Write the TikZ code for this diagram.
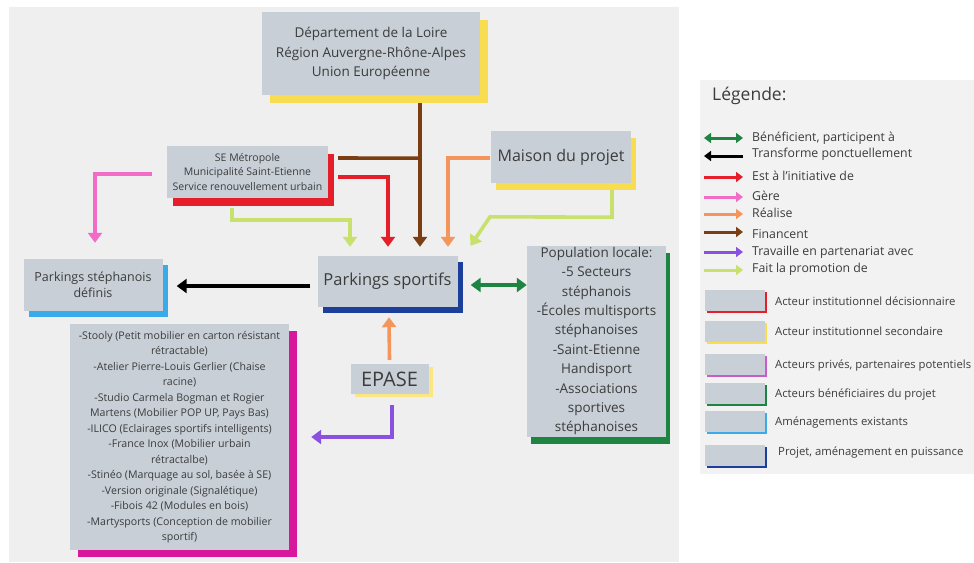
\documentclass[tikz,border=0pt]{standalone}
\usepackage{fontspec}
\setmainfont{Open Sans}
\usetikzlibrary{arrows.meta,calc,shadows}
\definecolor{bgmain}{HTML}{EFEFEF}
\definecolor{bgleg}{HTML}{F2F2F2}
\definecolor{boxgrey}{HTML}{C8CFD7}
\definecolor{txt}{HTML}{3C3C3C}
\definecolor{cbrown}{HTML}{7A3E12}
\definecolor{cred}{HTML}{E61E2A}
\definecolor{cprom}{HTML}{C8E06C}
\definecolor{corange}{HTML}{F4955C}
\definecolor{cpink}{HTML}{F06CC6}
\definecolor{cgreen}{HTML}{1E8442}
\definecolor{cpurple}{HTML}{8A50E0}
\definecolor{cyellow}{HTML}{F8DD50}
\definecolor{cnavy}{HTML}{1B3F9A}
\definecolor{clblue}{HTML}{3BAAE8}
\definecolor{cmagenta}{HTML}{D8189C}
\definecolor{clegpink}{HTML}{C85CC8}
\newcommand\fsz[2]{\fontsize{#1}{#2}\selectfont}
\tikzset{
  box/.style={fill=boxgrey, text=txt, align=center, inner sep=0pt},
  conn/.style={line width=3.6pt, -{Triangle[width=14pt,length=10pt]}},
  lconn/.style={line width=3pt, -{Triangle[width=10pt,length=7pt]}},
  legtxt/.style={text=txt, anchor=west, inner sep=0pt, font=\fsz{12.3}{14}},
  legtxt2/.style={text=txt, anchor=west, inner sep=0pt, font=\fsz{11.3}{13}},
  legbox/.style={fill=boxgrey, minimum width=60pt, minimum height=21pt, inner sep=0pt, anchor=north west},
}
\begin{document}
\begin{tikzpicture}[x=1pt,y=-1pt]
\useasboundingbox (0,0) rectangle (974,562);
\fill[white] (0,0) rectangle (974,562);
\fill[bgmain] (9,7) rectangle (679,562);
\fill[bgleg] (700,80) rectangle (974,474);

% main nodes
\node[box, general shadow={fill=cyellow, shadow xshift=8pt, shadow yshift=-8pt}, minimum width=218pt, minimum height=83pt, font=\fsz{13.5}{19.5}] (dep) at (371,53.5)
  {Département de la Loire\\Région Auvergne-Rhône-Alpes\\Union Européenne};
\node[box, general shadow={fill=cred, shadow xshift=6pt, shadow yshift=-8pt}, minimum width=161pt, minimum height=52pt, font=\fsz{10.5}{14.5}] (se) at (247.5,172)
  {SE Métropole\\Municipalité Saint-Etienne\\Service renouvellement urbain};
\node[box, general shadow={fill=cyellow, shadow xshift=5pt, shadow yshift=-7pt}, minimum width=140pt, minimum height=52pt, font=\fsz{16}{19}] (maison) at (561,157)
  {Maison du projet};
\node[box, general shadow={fill=cnavy, shadow xshift=5pt, shadow yshift=-6pt}, minimum width=140pt, minimum height=51pt, font=\fsz{16.5}{20}] (ps) at (387.5,281.5)
  {Parkings sportifs};
\node[box, general shadow={fill=cyellow!70!white, shadow xshift=4pt, shadow yshift=-3pt}, minimum width=78pt, minimum height=30pt, font=\fsz{20}{22}] (epase) at (389.5,379)
  {EPASE};
\node[box, general shadow={fill=clblue, shadow xshift=5pt, shadow yshift=-6pt}, minimum width=139pt, minimum height=52pt, font=\fsz{12.5}{16}] (def) at (93,285)
  {Parkings stéphanois\\définis};
\node[box, general shadow={fill=cmagenta, shadow xshift=8pt, shadow yshift=-7pt}, minimum width=219pt, minimum height=226pt, font=\fsz{10.6}{15.5}] (priv) at (179.5,437)
  {-Stooly (Petit mobilier en carton résistant\\rétractable)\\-Atelier Pierre-Louis Gerlier (Chaise\\racine)\\-Studio Carmela Bogman et Rogier\\Martens (Mobilier POP UP, Pays Bas)\\-ILICO (Eclairages sportifs intelligents)\\-France Inox (Mobilier urbain\\rétractalbe)\\-Stinéo (Marquage au sol, basée à SE)\\-Version originale (Signalétique)\\-Fibois 42 (Modules en bois)\\-Martysports (Conception de mobilier\\sportif)};
\node[box, general shadow={fill=cgreen, shadow xshift=4pt, shadow yshift=-7pt}, minimum width=139pt, minimum height=191pt, font=\fsz{13.5}{19.4}] (pop) at (596.5,341)
  {Population locale:\\-5 Secteurs\\stéphanois\\-Écoles multisports\\stéphanoises\\-Saint-Etienne\\Handisport\\-Associations\\sportives\\stéphanoises};

% connectors
\draw[conn, cbrown] ($(dep.south)+(49,8)$) -- ($(ps.north)+(32.5,-9)$);
\draw[line width=3.6pt, cbrown] ($(se.east)+(10,-14)$) -- ($(dep.south)+(49,63)$);
\draw[conn, cred] ($(se.east)+(10,5)$) -| ($(ps.north)+(0.5,-9)$);
\draw[conn, cprom] ($(se.south)+(-15.5,10)$) |- ($(ps.north)+(-37.5,-36)$) -- ($(ps.north)+(-37.5,-9)$);
\draw[conn, corange] ($(maison.west)+(-1,1)$) -| ($(ps.north)+(60.5,-9)$);
\draw[conn, cprom] ($(maison.south)+(51,7)$) -- ($(maison.south)+(51,34)$) -- ($(ps.north)+(102.5,-39)$) -- ($(ps.north)+(83,-10)$);
\coordinate (pk) at (152,174);
\draw[conn, cpink] (pk) -| ($(def.north)+(2,-16)$);
\draw[conn, black] ($(ps.west)+(-7,4.5)$) -- ($(def.east)+(14,1)$);
\draw[line width=3.6pt, cgreen, {Triangle[width=14pt,length=10pt]}-{Triangle[width=14pt,length=10pt]}] ($(ps.east)+(13,3.5)$) -- ($(pop.west)+(0,-56)$);
\draw[conn, corange] ($(epase.north)+(0,-4)$) -- ($(ps.south)+(1.5,10)$);
\draw[conn, cpurple] ($(epase.south)+(2.5,11)$) |- ($(priv.east)+(22,0)$);

% legend
\node[text=txt, anchor=west, inner sep=0pt, font=\fsz{17.5}{20}] (legt) at (712,96) {Légende:};
\coordinate (la1) at (704,138); \coordinate (lb1) at (743,138);
\draw[line width=3pt, cgreen, {Triangle[width=10pt,length=7pt]}-{Triangle[width=10pt,length=7pt]}] (la1) -- (lb1);
\node[legtxt] (lt1) at (752,138) {Bénéficient, participent à};
\coordinate (la2) at (743,156); \coordinate (lb2) at (704,156);
\draw[lconn, black] (la2) -- (lb2);
\node[legtxt] (lt2) at (752,154) {Transforme ponctuellement};
\coordinate (la3) at (704,177); \coordinate (lb3) at (743,177);
\draw[lconn, cred] (la3) -- (lb3);
\node[legtxt] (lt3) at (752,176) {Est à l'initiative de};
\coordinate (la4) at (704,197); \coordinate (lb4) at (743,197);
\draw[lconn, cpink] (la4) -- (lb4);
\node[legtxt] (lt4) at (752,196) {Gère};
\coordinate (la5) at (704,214); \coordinate (lb5) at (743,214);
\draw[lconn, corange] (la5) -- (lb5);
\node[legtxt] (lt5) at (752,213) {Réalise};
\coordinate (la6) at (704,232); \coordinate (lb6) at (743,232);
\draw[lconn, cbrown] (la6) -- (lb6);
\node[legtxt] (lt6) at (752,234) {Financent};
\coordinate (la7) at (704,252); \coordinate (lb7) at (743,252);
\draw[lconn, cpurple] (la7) -- (lb7);
\node[legtxt] (lt7) at (752,252) {Travaille en partenariat avec};
\coordinate (la8) at (704,270); \coordinate (lb8) at (743,270);
\draw[lconn, cprom] (la8) -- (lb8);
\node[legtxt] (lt8) at (752,269) {Fait la promotion de};

\node[legbox, general shadow={fill=cred, shadow xshift=1.5pt, shadow yshift=-1.5pt}] (lk1) at (705,290) {};
\node[legtxt2] (lx1) at (775,301) {Acteur institutionnel décisionnaire};
\node[legbox, general shadow={fill=cyellow, shadow xshift=1.5pt, shadow yshift=-1.5pt}] (lk2) at (705,321) {};
\node[legtxt2] (lx2) at (775,331) {Acteur institutionnel secondaire};
\node[legbox, general shadow={fill=clegpink, shadow xshift=1.5pt, shadow yshift=-1.5pt}] (lk3) at (705,354) {};
\node[legtxt2] (lx3) at (775,366) {Acteurs privés, partenaires potentiels};
\node[legbox, general shadow={fill=cgreen, shadow xshift=1.5pt, shadow yshift=-1.5pt}] (lk4) at (705,383) {};
\node[legtxt2] (lx4) at (775,395) {Acteurs bénéficiaires du projet};
\node[legbox, general shadow={fill=clblue, shadow xshift=1.5pt, shadow yshift=-1.5pt}] (lk5) at (705,411) {};
\node[legtxt2] (lx5) at (775,423) {Aménagements existants};
\node[legbox, general shadow={fill=cnavy, shadow xshift=1.5pt, shadow yshift=-1.5pt}] (lk6) at (705,445) {};
\node[legtxt2] (lx6) at (778,453) {Projet, aménagement en puissance};
\end{tikzpicture}
\end{document}
